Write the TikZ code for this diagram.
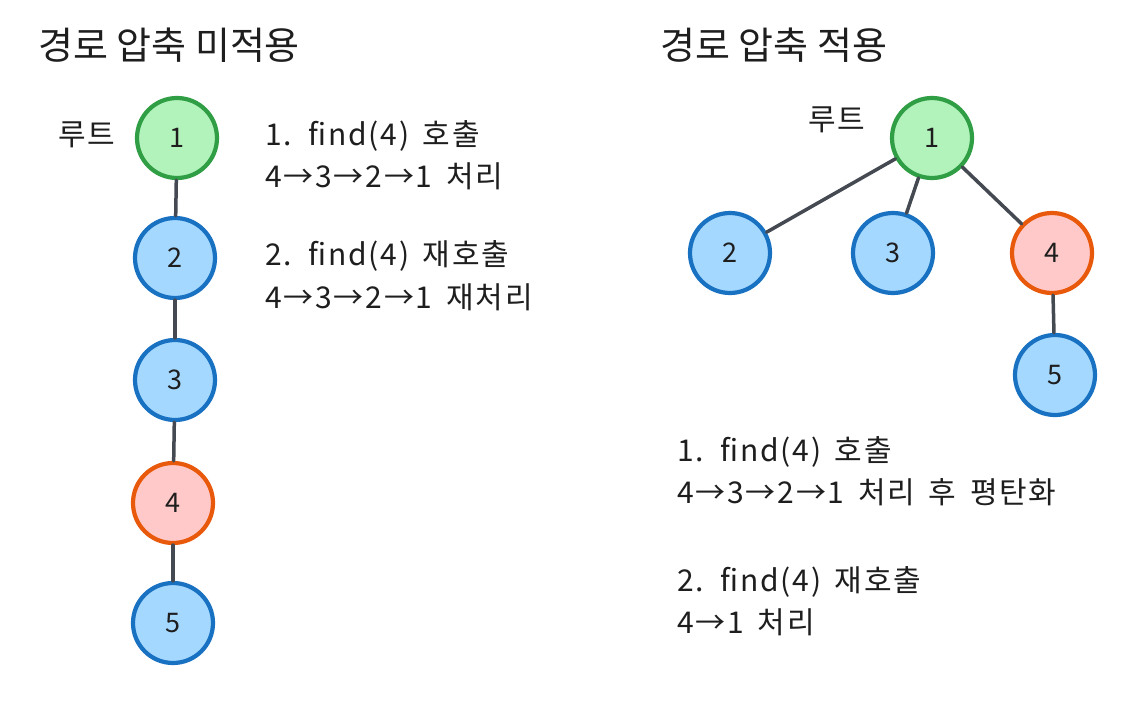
\documentclass[tikz,border=0pt]{standalone}
\usepackage{fontspec}
\setmainfont{Noto Sans CJK KR}
\newfontfamily\notefont[LetterSpace=6,WordSpace=1.6]{Noto Sans CJK KR}
\definecolor{txt}{HTML}{1E1E1E}
\definecolor{edge}{HTML}{454A52}
\definecolor{gfill}{HTML}{B2F2BB}
\definecolor{gdraw}{HTML}{2F9E44}
\definecolor{bfill}{HTML}{A5D8FF}
\definecolor{bdraw}{HTML}{1971C2}
\definecolor{rfill}{HTML}{FFC9C9}
\definecolor{rdraw}{HTML}{E8590C}
\tikzset{
  vnode/.style={circle, line width=4.2pt, minimum size=80pt, inner sep=0pt, text=txt,
    font=\fontsize{27}{30}\selectfont},
  gnode/.style={vnode, fill=gfill, draw=gdraw},
  bnode/.style={vnode, fill=bfill, draw=bdraw},
  rnode/.style={vnode, fill=rfill, draw=rdraw},
  link/.style={draw=edge, line width=3.5pt, line cap=round},
  title/.style={anchor=west, text=txt, inner sep=0pt, font=\fontsize{38}{42}\selectfont},
  note/.style={anchor=west, text=txt, inner sep=0pt, font=\notefont\fontsize{30}{34}\selectfont},
}
\begin{document}
\begin{tikzpicture}[x=1pt,y=-1pt]
\useasboundingbox[fill=white] (0,0) rectangle (1130,704);
% titles
\node[title] (t1) at (38,45) {경로 압축 미적용};
\node[title] (t2) at (660,45) {경로 압축 적용};
% left tree
\node[gnode] (a1) at (177,138) {1};
\node[bnode] (a2) at (175,258) {2};
\node[bnode] (a3) at (175,380) {3};
\node[rnode] (a4) at (173,503) {4};
\node[bnode] (a5) at (173,623) {5};
\draw[link] (a1) -- (a2);
\draw[link] (a2) -- (a3);
\draw[link] (a3) -- (a4);
\draw[link] (a4) -- (a5);
\node[note] (r1) at (58,135) {루트};
\node[note] (l1) at (265,136) {1. find(4) 호출};
\node[note] (l2) at (265,176) {4→3→2→1 처리};
\node[note] (l3) at (265,256) {2. find(4) 재호출};
\node[note] (l4) at (265,297) {4→3→2→1 재처리};
% right tree
\node[gnode] (b1) at (932,138) {1};
\node[bnode] (b2) at (730,253) {2};
\node[bnode] (b3) at (893,253) {3};
\node[rnode] (b4) at (1052,253) {4};
\node[bnode] (b5) at (1055,375) {5};
\draw[link] (b1) -- (b2);
\draw[link] (b1) -- (b3);
\draw[link] (b1) -- (b4);
\draw[link] (b4) -- (b5);
\node[note] (r2) at (808,120) {루트};
\node[note] (m1) at (677,452) {1. find(4) 호출};
\node[note] (m2) at (677,492) {4→3→2→1 처리 후 평탄화};
\node[note] (m3) at (677,582) {2. find(4) 재호출};
\node[note] (m4) at (677,622) {4→1 처리};
\end{tikzpicture}
\end{document}
